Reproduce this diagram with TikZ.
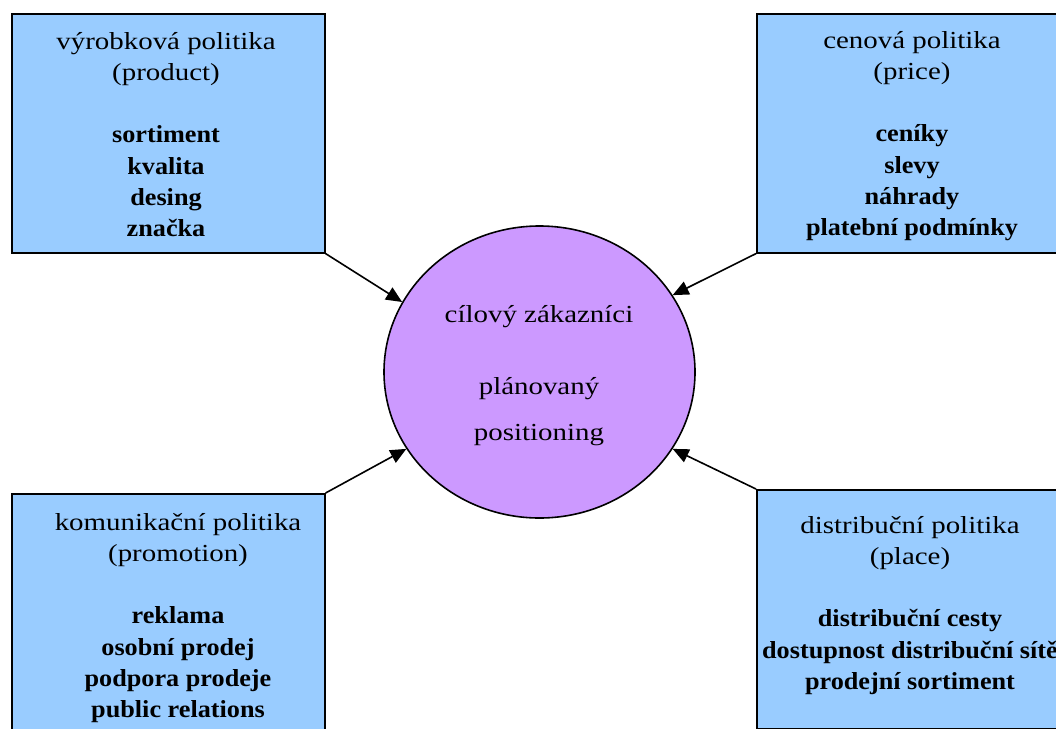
\documentclass[tikz,border=0pt]{standalone}
\usepackage{fontspec}
\setmainfont[FakeStretch=1.18]{Liberation Serif}
\newfontfamily\itemfont[FakeStretch=1.07]{Liberation Serif}
\usetikzlibrary{shapes.geometric,arrows.meta,calc}
\definecolor{boxblue}{HTML}{99CCFF}
\definecolor{ellviolet}{HTML}{CC99FF}
\newcommand{\itm}[1]{{\itemfont\bfseries #1}}
\begin{document}
\begin{tikzpicture}[x=1pt,y=-1pt,
  box/.style={draw=black,line width=1.6pt,fill=boxblue,rectangle,inner sep=0pt,
    minimum width=313pt,minimum height=239pt,anchor=north west},
  ell/.style={draw=black,line width=1.6pt,fill=ellviolet,ellipse,inner sep=0pt,
    minimum width=311pt,minimum height=292pt},
  label/.style={anchor=base,inner sep=0pt,font=\fontsize{24.5}{31.3}\selectfont},
  arr/.style={line width=1.6pt,-{Triangle[length=16pt,width=14pt]}}]
\clip (0,0) rectangle (1056,728);
\fill[white] (0,0) rectangle (1056,728);

% the four policy boxes and the central ellipse
\node[box] (tl) at (11,13) {};
\node[box] (tr) at (756,13) {};
\node[box] (bl) at (11,493) {};
\node[box] (br) at (756,489) {};
\node[ell] (ell) at (539.5,372) {};

% box texts
\node[label] (tlt) at (166,49) {\begin{tabular}[t]{@{}c@{}}
  výrobková politika\\ (product)\\ \\
  \itm{sortiment}\\ \itm{kvalita}\\ \itm{desing}\\ \itm{značka}
\end{tabular}};
\node[label] (trt) at (912,48) {\begin{tabular}[t]{@{}c@{}}
  cenová politika\\ (price)\\ \\
  \itm{ceníky}\\ \itm{slevy}\\ \itm{náhrady}\\ \itm{platební podmínky}
\end{tabular}};
\node[label] (blt) at (178,530) {\begin{tabular}[t]{@{}c@{}}
  komunikační politika\\ (promotion)\\ \\
  \itm{reklama}\\ \itm{osobní prodej}\\ \itm{podpora prodeje}\\ \itm{public relations}
\end{tabular}};
\node[label] (brt) at (910,533) {\begin{tabular}[t]{@{}c@{}}
  distribuční politika\\ (place)\\ \\
  \itm{distribuční cesty}\\ \itm{dostupnost distribuční sítě}\\ \itm{prodejní sortiment}
\end{tabular}};

% centre text
\node[label] (ellt) at (539,322) {\begin{tabular}[t]{@{}c@{}}
  cílový zákazníci\\[40.7pt] plánovaný\\[14.7pt] positioning
\end{tabular}};

% connectors
\draw[arr] (tl.south east) -- (ell.153);
\draw[arr] (tr.south west) -- (ell.30);
\draw[arr] (bl.north east) -- (ell.210);
\draw[arr] (br.north west) -- (ell.-30);
\end{tikzpicture}
\end{document}
